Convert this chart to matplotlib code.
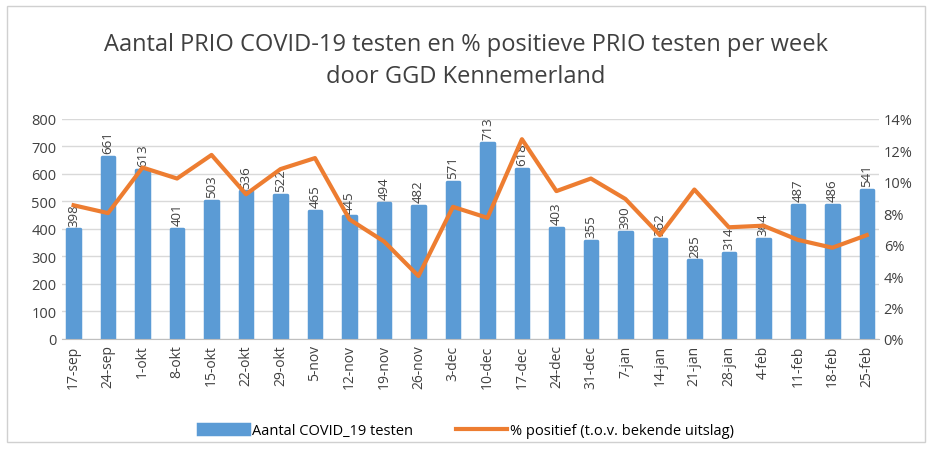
import numpy as np
import matplotlib.pyplot as plt
from matplotlib.ticker import PercentFormatter
from matplotlib.patches import Rectangle

weeks = ["17-sep", "24-sep", "1-okt", "8-okt", "15-okt", "22-okt", "29-okt", "5-nov",
         "12-nov", "19-nov", "26-nov", "3-dec", "10-dec", "17-dec", "24-dec", "31-dec",
         "7-jan", "14-jan", "21-jan", "28-jan", "4-feb", "11-feb", "18-feb", "25-feb"]
tests = [398, 661, 613, 401, 503, 536, 522, 465, 445, 494, 482, 571, 713, 618,
         403, 355, 390, 362, 285, 314, 364, 487, 486, 541]
pct_pos = [8.5, 8.0, 10.9, 10.2, 11.7, 9.2, 10.8, 11.5, 7.6, 6.2, 4.0, 8.4, 7.7, 12.7,
           9.4, 10.2, 8.9, 6.6, 9.5, 7.1, 7.2, 6.3, 5.8, 6.6]

blue = "#5B9BD5"
orange = "#ED7D31"
plt.rcParams['font.family'] = ['Open Sans', 'DejaVu Sans']

fig = plt.figure(figsize=(9.32, 4.52), dpi=100)
fig.patches.append(Rectangle((0.008, 0.02), 0.985, 0.965, transform=fig.transFigure,
                             fill=False, edgecolor="#d0d0d0", lw=1))
ax = fig.add_axes([0.066, 0.248, 0.877, 0.487])
x = np.arange(len(weeks))

bars = ax.bar(x, tests, width=0.36, color=blue, edgecolor=blue, lw=2.5,
              joinstyle='round', zorder=2, label="Aantal COVID_19 testen")
for xi, v in zip(x, tests):
    ax.text(xi, v + 14, str(v), rotation=90, ha='center', va='bottom',
            fontsize=9.5, color="#404040", zorder=4)

ax.set_ylim(0, 800)
ax.set_yticks(range(0, 801, 100))
ax.set_xlim(-0.35, len(weeks) - 0.65)
ax.set_xticks(x)
ax.set_xticklabels(weeks, rotation=90, fontsize=10, color="#404040")
ax.tick_params(axis='y', labelsize=10.5, colors="#404040", length=0)
ax.tick_params(axis='x', length=0, pad=4)
ax.grid(axis='y', color="#d9d9d9", lw=1, zorder=0)
for s in ["top", "right", "left"]:
    ax.spines[s].set_visible(False)
ax.spines["bottom"].set_color("#bfbfbf")

ax2 = ax.twinx()
ax2.plot(x, pct_pos, color=orange, lw=3, zorder=3, label="% positief (t.o.v. bekende uitslag)")
ax2.set_ylim(0, 14)
ax2.set_yticks(range(0, 15, 2))
ax2.yaxis.set_major_formatter(PercentFormatter(decimals=0))
ax2.tick_params(axis='y', labelsize=10.5, colors="#404040", length=0)
for s in ax2.spines.values():
    s.set_visible(False)

fig.text(0.5, 0.865, "Aantal PRIO COVID-19 testen en % positieve PRIO testen per week\ndoor GGD Kennemerland",
         ha='center', va='center', fontsize=17, color="#404040", linespacing=1.45)

h1, l1 = ax.get_legend_handles_labels()
h2, l2 = ax2.get_legend_handles_labels()
fig.legend(h1 + h2, l1 + l2, loc='center', bbox_to_anchor=(0.5, 0.045), ncol=2,
           frameon=False, fontsize=10.5, handlelength=3.5, columnspacing=3, handletextpad=0.2)

fig.savefig("out.png", dpi=100)
